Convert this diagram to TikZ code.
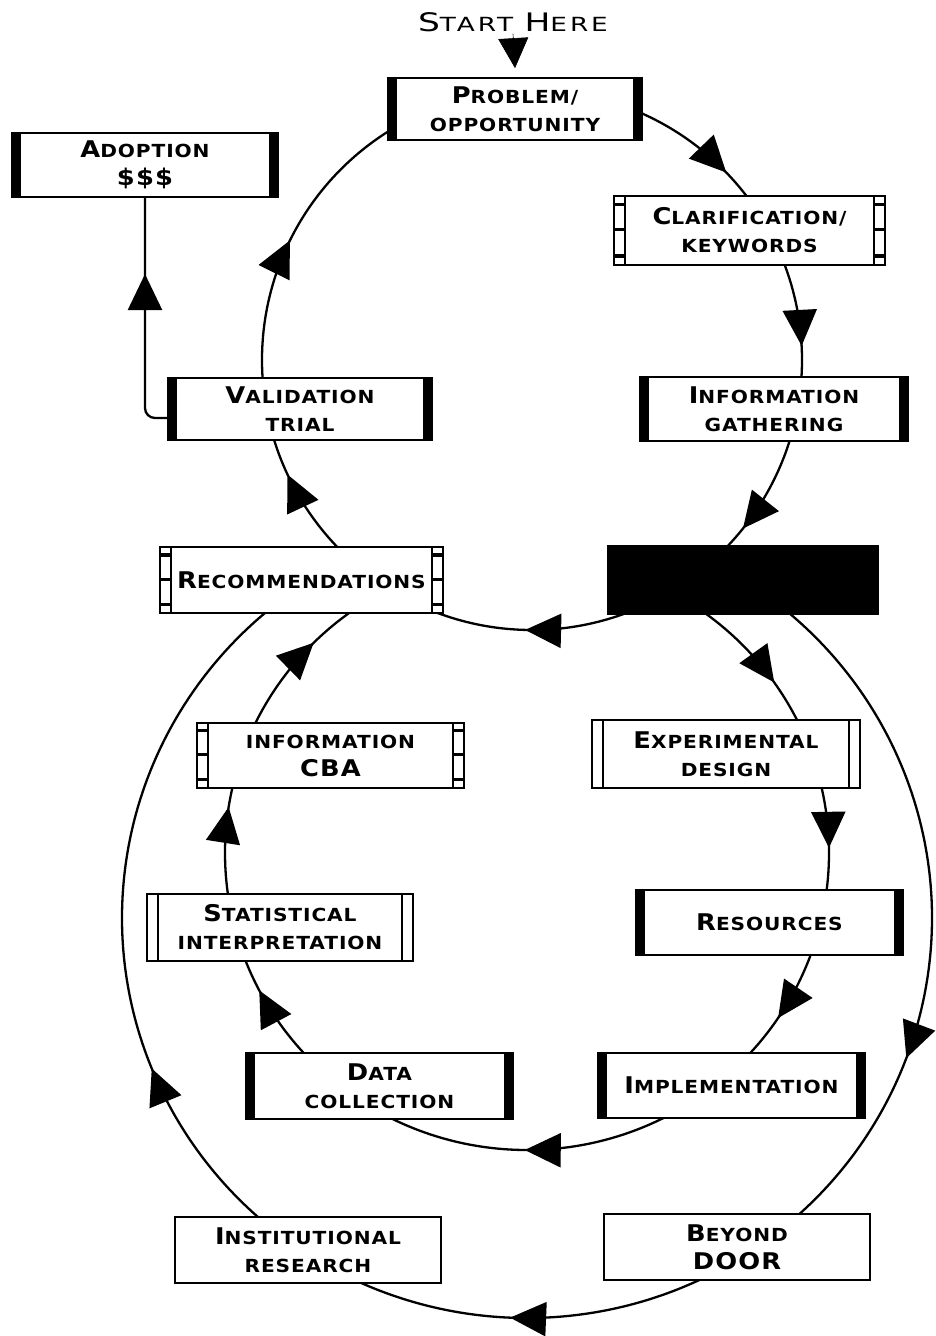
\documentclass[tikz,border=0pt]{standalone}
\usepackage{fontspec}
\usetikzlibrary{arrows.meta,decorations.markings,calc}
\newfontfamily\cpfont{DejaVu Sans}[FakeStretch=1.12,LetterSpace=5]
\newfontfamily\headfont{DejaVu Sans}[FakeStretch=1.35,LetterSpace=15]
% large initial capital of a small-caps word
\newcommand\capl[1]{{\fontsize{23}{28}\selectfont #1}}
\newcommand\caph[1]{{\fontsize{25.5}{24}\selectfont #1}}
\tikzset{
  stagebox/.style={draw, line width=1.7pt, fill=white, inner sep=0pt, align=center,
    font=\cpfont\bfseries\fontsize{18}{28}\selectfont},
  thickbars/.style={path picture={
    \fill[black] (path picture bounding box.north west) rectangle ([xshift=9pt]path picture bounding box.south west);
    \fill[black] ([xshift=-9pt]path picture bounding box.north east) rectangle (path picture bounding box.south east);}},
  doublebars/.style={path picture={
    \draw[black, line width=1.2pt] ([xshift=11pt]path picture bounding box.north west) -- ([xshift=11pt]path picture bounding box.south west);
    \draw[black, line width=1.2pt] ([xshift=-11pt]path picture bounding box.north east) -- ([xshift=-11pt]path picture bounding box.south east);}},
  filmbars/.style={path picture={
    \coordinate (ppnw) at (path picture bounding box.north west);
    \coordinate (ppsw) at (path picture bounding box.south west);
    \coordinate (ppne) at (path picture bounding box.north east);
    \coordinate (ppse) at (path picture bounding box.south east);
    \draw[black, line width=1.5pt] ([xshift=11pt]ppnw) -- ([xshift=11pt]ppsw);
    \draw[black, line width=1.5pt] ([xshift=-11pt]ppne) -- ([xshift=-11pt]ppse);
    \foreach \f in {0.12,0.49,0.87}{
      \fill[black] ($(ppnw)!\f!(ppsw)+(0,1.6)$) rectangle ($(ppnw)!\f!(ppsw)+(11,-1.6)$);
      \fill[black] ($(ppne)!\f!(ppse)+(0,1.6)$) rectangle ($(ppne)!\f!(ppse)+(-11,-1.6)$);}}},
  flow/.style={line width=2.3pt, postaction={decorate},
    decoration={markings, mark=at position #1 with {\arrow{Triangle[length=36pt,width=34pt]}}}}
}
\begin{document}
\begin{tikzpicture}[x=1pt,y=1pt]
\useasboundingbox (0,0) rectangle (936,-1336);
\fill[white] (0,0) rectangle (936,-1336);

% centres of the three loops
\coordinate (c1) at (532,-360);
\coordinate (c2) at (527,-853);
\coordinate (c3) at (527,-918);

% upper loop
\draw[flow=0.767] ([shift={(90:270pt)}]c1) arc[start angle=90,end angle=30,radius=270pt];
\draw[flow=0.675] ([shift={(30:270pt)}]c1) arc[start angle=30,end angle=-10,radius=270pt];
\draw[flow=0.636] ([shift={(-10:270pt)}]c1) arc[start angle=-10,end angle=-55,radius=270pt];
\draw[flow=0.521] ([shift={(-55:270pt)}]c1) arc[start angle=-55,end angle=-125,radius=270pt];
\draw[flow=0.636] ([shift={(-125:270pt)}]c1) arc[start angle=-125,end angle=-172,radius=270pt];
\draw[flow=0.35] ([shift={(188:270pt)}]c1) arc[start angle=188,end angle=90,radius=270pt];

% middle loop
\draw[flow=0.61] ([shift={(60:302pt and 297pt)}]c2) arc[start angle=60,end angle=19,x radius=302pt,y radius=297pt];
\draw[flow=0.5625] ([shift={(19:302pt and 297pt)}]c2) arc[start angle=19,end angle=-13,x radius=302pt,y radius=297pt];
\draw[flow=0.545] ([shift={(-13:302pt and 297pt)}]c2) arc[start angle=-13,end angle=-51,x radius=302pt,y radius=297pt];
\draw[flow=0.512] ([shift={(-51:302pt and 297pt)}]c2) arc[start angle=-51,end angle=-128,x radius=302pt,y radius=297pt];
\draw[flow=0.662] ([shift={(-128:302pt and 297pt)}]c2) arc[start angle=-128,end angle=-165,x radius=302pt,y radius=297pt];
\draw[flow=0.683] ([shift={(195:302pt and 297pt)}]c2) arc[start angle=195,end angle=160,x radius=302pt,y radius=297pt];
\draw[flow=0.625] ([shift={(160:302pt and 297pt)}]c2) arc[start angle=160,end angle=120,x radius=302pt,y radius=297pt];

% outer loop
\draw[flow=0.686] ([shift={(55:405pt and 400pt)}]c3) arc[start angle=55,end angle=-55,x radius=405pt,y radius=400pt];
\draw[flow=0.542] ([shift={(-55:405pt and 400pt)}]c3) arc[start angle=-55,end angle=-124,x radius=405pt,y radius=400pt];
\draw[flow=0.306] ([shift={(236:405pt and 400pt)}]c3) arc[start angle=236,end angle=125,x radius=405pt,y radius=400pt];

% stages
\node[stagebox, thickbars, minimum width=254pt, minimum height=62pt] (prob) at (515,-109) {\capl{P}ROBLEM/\\OPPORTUNITY};
\node[stagebox, thickbars, minimum width=266pt, minimum height=64pt] (adopt) at (145,-165) {\capl{A}DOPTION\\\capl{\$\$\$}};
\node[stagebox, filmbars, minimum width=271pt, minimum height=69pt] (clar) at (749.5,-230.5) {\capl{C}LARIFICATION/\\KEYWORDS};
\node[stagebox, thickbars, minimum width=264pt, minimum height=62pt] (valid) at (300,-409) {\capl{V}ALIDATION\\TRIAL};
\node[stagebox, thickbars, minimum width=268pt, minimum height=64pt] (gath) at (774,-409) {\capl{I}NFORMATION\\GATHERING};
\node[stagebox, filmbars, minimum width=283pt, minimum height=66pt] (recomm) at (301.5,-580) {\capl{R}ECOMMENDATIONS};
\node[draw, line width=1.7pt, fill=black, minimum width=270pt, minimum height=68pt] (black) at (743,-580) {};
\node[stagebox, filmbars, minimum width=267pt, minimum height=65pt] (cba) at (330.5,-755.5) {INFORMATION\\\capl{CBA}};
\node[stagebox, doublebars, minimum width=268pt, minimum height=68pt] (exp) at (726,-754) {\capl{E}XPERIMENTAL\\DESIGN};
\node[stagebox, doublebars, minimum width=266pt, minimum height=67pt] (stat) at (280,-927.5) {\capl{S}TATISTICAL\\INTERPRETATION};
\node[stagebox, thickbars, minimum width=267pt, minimum height=65pt] (res) at (769.5,-922.5) {\capl{R}ESOURCES};
\node[stagebox, thickbars, minimum width=267pt, minimum height=66pt] (data) at (379.5,-1086) {\capl{D}ATA\\COLLECTION};
\node[stagebox, thickbars, minimum width=267pt, minimum height=65pt] (impl) at (731.5,-1085.5) {\capl{I}MPLEMENTATION};
\node[stagebox, minimum width=266pt, minimum height=66pt] (inst) at (308,-1250) {\capl{I}NSTITUTIONAL\\RESEARCH};
\node[stagebox, minimum width=266pt, minimum height=66pt] (beyond) at (737,-1247) {\capl{B}EYOND\\\capl{DOOR}};

% validation leads to adoption
\draw[flow=0.68, rounded corners=10pt] ([yshift=-9pt]valid.west) -| (adopt.south);

% entry point
\node[font=\headfont\fontsize{19.5}{24}\selectfont, inner sep=2pt] (start) at (513,-22) {\caph{S}TART \caph{H}ERE};
\draw[line width=0.6pt, -{Triangle[length=30pt,width=30pt]}] (start.south) -- ([yshift=9pt]prob.north);
\end{tikzpicture}
\end{document}
